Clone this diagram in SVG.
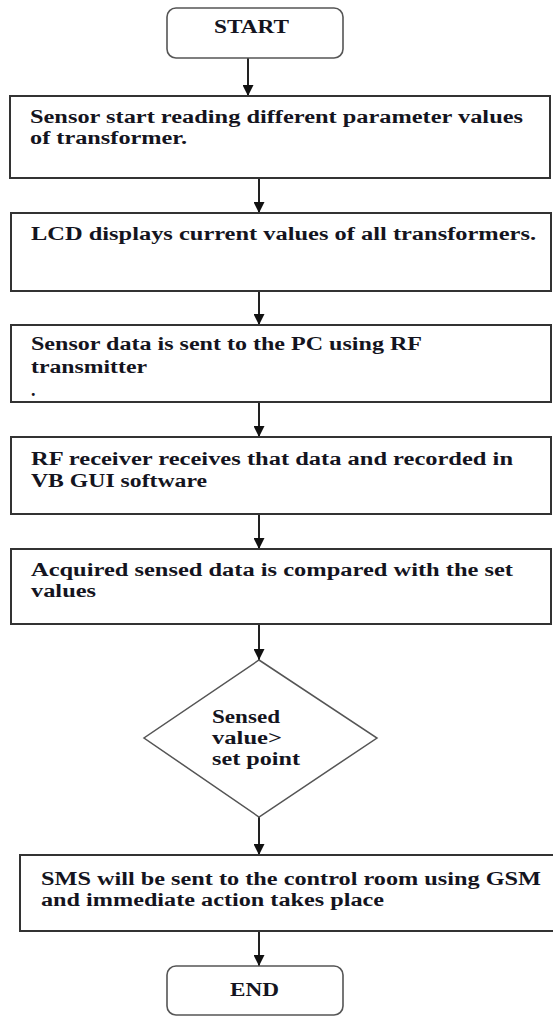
<svg xmlns="http://www.w3.org/2000/svg" width="553" height="1017" viewBox="0 0 553 1017">
  <style>
    .box { fill: #fff; stroke: #333; stroke-width: 2; }
    .term { fill: #fff; stroke: #555; stroke-width: 1.6; }
    .dec { fill: #fff; stroke: #555; stroke-width: 1.5; }
    .lbl { font-family: "Liberation Serif", "Times New Roman", "DejaVu Serif", serif; font-weight: bold; font-size: 18px; fill: #141420; }
    .flow { stroke: #222; stroke-width: 2; fill: none; marker-end: url(#head); }
  </style>
  <defs>
    <marker id="head" viewBox="0 0 10 10" refX="10" refY="5" markerWidth="5.5" markerHeight="5.5" markerUnits="strokeWidth" orient="auto">
      <path d="M0,0 L10,5 L0,10 Z" fill="#111"/>
    </marker>
  </defs>

  <rect width="553" height="1017" fill="#fff"/>

  <!-- connectors between the steps -->
  <g id="connectors">
    <line class="flow" x1="248" y1="58" x2="248" y2="96"/>
    <line class="flow" x1="259" y1="179" x2="259" y2="213"/>
    <line class="flow" x1="259" y1="291" x2="259" y2="325"/>
    <line class="flow" x1="259" y1="402" x2="259" y2="437"/>
    <line class="flow" x1="259" y1="514" x2="259" y2="549"/>
    <line class="flow" x1="259" y1="624" x2="259" y2="660"/>
    <line class="flow" x1="259" y1="817" x2="259" y2="855"/>
    <line class="flow" x1="259" y1="931" x2="259" y2="966"/>
  </g>

  <g id="start">
    <rect class="term" x="167" y="8" width="176" height="50" rx="9"/>
    <text class="lbl" x="214" y="33" textLength="75" lengthAdjust="spacingAndGlyphs">START</text>
  </g>

  <g id="read-sensors">
    <rect class="box" x="10" y="96" width="540" height="82"/>
    <text class="lbl" x="30" y="123" textLength="493" lengthAdjust="spacingAndGlyphs">Sensor start reading different parameter values</text>
    <text class="lbl" x="30" y="144" textLength="157" lengthAdjust="spacingAndGlyphs">of transformer.</text>
  </g>

  <g id="lcd-display">
    <rect class="box" x="11" y="213" width="540" height="78"/>
    <text class="lbl" x="31" y="240" textLength="505" lengthAdjust="spacingAndGlyphs">LCD displays current values of all transformers.</text>
  </g>

  <g id="rf-transmit">
    <rect class="box" x="11" y="325" width="540" height="77"/>
    <text class="lbl" x="31" y="350" textLength="391" lengthAdjust="spacingAndGlyphs">Sensor data is sent to the PC using RF</text>
    <text class="lbl" x="31" y="373" textLength="116" lengthAdjust="spacingAndGlyphs">transmitter</text>
    <text class="lbl" x="31" y="396">.</text>
  </g>

  <g id="rf-receive">
    <rect class="box" x="11" y="437" width="540" height="77"/>
    <text class="lbl" x="31" y="465" textLength="482" lengthAdjust="spacingAndGlyphs">RF receiver receives that data and recorded in</text>
    <text class="lbl" x="31" y="487" textLength="176" lengthAdjust="spacingAndGlyphs">VB GUI software</text>
  </g>

  <g id="compare">
    <rect class="box" x="11" y="549" width="540" height="75"/>
    <text class="lbl" x="31" y="576" textLength="482" lengthAdjust="spacingAndGlyphs">Acquired sensed data is compared with the set</text>
    <text class="lbl" x="31" y="597" textLength="65" lengthAdjust="spacingAndGlyphs">values</text>
  </g>

  <g id="threshold-check">
    <polygon class="dec" points="259,660 377,738 259,817 144,738"/>
    <text class="lbl" x="212" y="723" textLength="68" lengthAdjust="spacingAndGlyphs">Sensed</text>
    <text class="lbl" x="212" y="744" textLength="70" lengthAdjust="spacingAndGlyphs">value&gt;</text>
    <text class="lbl" x="212" y="765" textLength="88" lengthAdjust="spacingAndGlyphs">set point</text>
  </g>

  <g id="send-sms">
    <rect class="box" x="20" y="855" width="540" height="76"/>
    <text class="lbl" x="41" y="885" textLength="500" lengthAdjust="spacingAndGlyphs">SMS will be sent to the control room using GSM</text>
    <text class="lbl" x="41" y="906" textLength="343" lengthAdjust="spacingAndGlyphs">and immediate action takes place</text>
  </g>

  <g id="end">
    <rect class="term" x="167" y="966" width="176" height="49" rx="9"/>
    <text class="lbl" x="230" y="996" textLength="49" lengthAdjust="spacingAndGlyphs">END</text>
  </g>
</svg>
